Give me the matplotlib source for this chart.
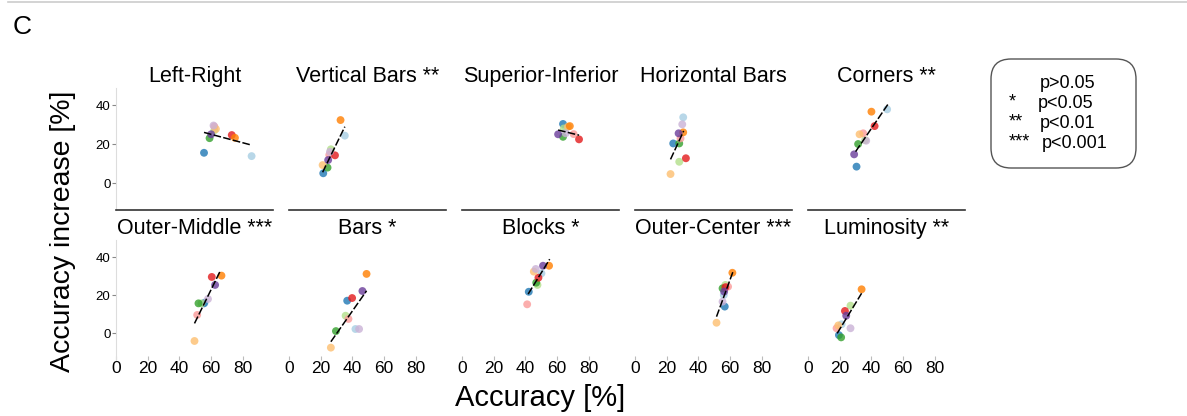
import matplotlib.pyplot as plt
from matplotlib.patches import FancyBboxPatch

plt.rcParams['font.family'] = ['Liberation Sans', 'DejaVu Sans']

# colour order (ColorBrewer Paired): one colour per subject
subject_colors = ['#a6cee3', '#1f78b4', '#b2df8a', '#33a02c', '#fb9a99',
                  '#e31a1c', '#fdbf6f', '#ff7f00', '#cab2d6', '#6a3d9a']

titles = ['Left-Right', 'Vertical Bars **', 'Superior-Inferior', 'Horizontal Bars', 'Corners **',
          'Outer-Middle ***', 'Bars *', 'Blocks *', 'Outer-Center ***', 'Luminosity **']

# accuracy [%] per subject, in colour order
acc = [
    [85.5, 55.5, 62.0, 59.0, 62.0, 73.0, 63.0, 75.0, 61.5, 60.0],
    [35.2, 21.6, 26.4, 24.3, 25.4, 29.0, 21.2, 32.5, 25.8, 24.7],
    [65.5, 63.7, 64.2, 63.7, 70.4, 73.8, 66.8, 68.0, 65.4, 60.6],
    [30.4, 24.1, 27.9, 27.9, 28.7, 32.1, 22.4, 30.4, 29.8, 27.5],
    [49.9, 30.6, 36.0, 31.6, 34.8, 42.0, 32.5, 40.0, 36.7, 29.1],
    [56.0, 55.5, 53.9, 52.0, 51.2, 60.4, 49.5, 66.5, 58.0, 62.5],
    [41.9, 36.7, 35.7, 29.6, 37.5, 39.8, 26.4, 48.9, 44.2, 46.3],
    [50.1, 42.1, 47.6, 46.8, 41.1, 48.2, 45.3, 54.9, 46.5, 51.1],
    [56.0, 56.6, 57.0, 55.2, 58.7, 57.0, 51.4, 61.4, 55.2, 56.2],
    [21.2, 19.5, 26.8, 20.9, 18.0, 23.3, 19.1, 33.8, 26.8, 24.1],
]

# accuracy increase [%] per subject, in colour order
inc = [
    [13.8, 15.5, 27.0, 23.0, 29.0, 24.6, 27.7, 23.2, 29.5, 25.0],
    [24.3, 5.0, 17.3, 7.9, 14.4, 14.2, 9.2, 32.3, 16.0, 11.8],
    [28.5, 30.3, 28.0, 23.7, 25.1, 22.4, 28.9, 29.2, 25.5, 25.0],
    [33.7, 20.3, 10.9, 20.3, 22.9, 12.7, 4.6, 26.0, 30.1, 25.5],
    [37.8, 8.4, 22.0, 20.0, 25.5, 29.2, 25.0, 36.6, 21.7, 14.7],
    [16.1, 15.6, 15.6, 15.6, 9.5, 29.5, -4.2, 30.2, 17.9, 25.3],
    [2.1, 17.0, 9.1, 1.0, 7.4, 18.4, -7.7, 31.1, 2.1, 22.1],
    [31.4, 21.7, 25.3, 26.5, 15.1, 29.1, 32.3, 35.4, 33.7, 35.4],
    [20.0, 13.9, 25.3, 23.5, 24.4, 24.1, 5.4, 31.7, 16.5, 21.8],
    [4.6, -1.1, 14.4, -2.3, 2.5, 11.6, 4.0, 23.0, 2.5, 9.1],
]

# regression fits: slope, intercept, x range
fit_slope = [-0.217, 1.67, -0.20, 1.76, 1.19, 1.70, 1.19, 1.35, 2.28, 1.37]
fit_icpt = [38.0, -29.9, 39.3, -27.3, -19.6, -79.1, -36.0, -35.8, -108.6, -25.4]
fit_x0 = [55.5, 21.2, 60.6, 22.4, 30.0, 49.5, 26.4, 41.7, 51.4, 18.4]
fit_x1 = [85.5, 35.2, 73.8, 30.7, 50.3, 66.0, 48.9, 55.3, 61.8, 33.8]

xticks = [0, 20, 40, 60, 80]
yticks = [0, 20, 40]

key_stars = ['', '*', '**', '***']
key_text = ['p>0.05', 'p<0.05', 'p<0.01', 'p<0.001']

W, H = 1187, 416
fig = plt.figure(figsize=(W / 100, H / 100), dpi=100)

# overlay in pixel units for the decorations
over = fig.add_axes([0, 0, 1, 1], zorder=-1)
over.set_xlim(0, W)
over.set_ylim(H, 0)
over.axis('off')

col_left = [116 + 173 * i for i in range(5)]
row_box = [(87.5, 210.3), (239.9, 359.6)]  # top/bottom pixel of each row

for k in range(10):
    r, c = divmod(k, 5)
    top, bot = row_box[r]
    ax = fig.add_axes([col_left[c] / W, 1 - bot / H, 157 / W, (bot - top) / H])
    ax.patch.set_alpha(0)
    ax.set_xlim(0, 99)
    ax.set_ylim(-14, 49)
    ax.scatter(acc[k], inc[k], c=subject_colors, s=32, alpha=0.8, linewidths=0, zorder=3)
    xs = [fit_x0[k], fit_x1[k]]
    ys = [fit_slope[k] * x + fit_icpt[k] for x in xs]
    ax.plot(xs, ys, color='black', lw=1.1, dashes=(5, 1.5), zorder=4)
    ax.set_title(titles[k], fontsize=15.5, pad=4)

    for s in ['top', 'right']:
        ax.spines[s].set_visible(False)
    if c == 0:
        ax.spines['left'].set_color('#dddddd')
        ax.set_yticks(yticks)
        ax.tick_params(axis='y', labelsize=9.5, length=3, color='#888888', pad=1)
    else:
        ax.spines['left'].set_visible(False)
        ax.set_yticks([])
    if r == 0:
        ax.spines['bottom'].set_color('#333333')
        ax.spines['bottom'].set_linewidth(1.2)
        ax.set_xticks([])
    else:
        ax.spines['bottom'].set_visible(False)
        ax.set_xticks(xticks)
        ax.tick_params(axis='x', labelsize=12.5, length=3, color='#bbbbbb', pad=1,
                       direction='in')

fig.text(63 / W, 1 - 231 / H, 'Accuracy increase [%]', rotation=90,
         fontsize=20.5, ha='center', va='center')
fig.text(540 / W, 1 - 398 / H, 'Accuracy [%]', fontsize=21, ha='center', va='center')
fig.text(13 / W, 1 - 27 / H, 'C', fontsize=19, ha='left', va='center')

# faint line along the top of the figure
over.plot([8, W], [1.5, 1.5], color='#cccccc', lw=1.2)

# significance key
box = FancyBboxPatch((991, 59), 145, 109, boxstyle='round,pad=0,rounding_size=20',
                     facecolor='white', edgecolor='#555555', lw=1.0)
over.add_patch(box)
key_x = [1040, 1038, 1040, 1042]
for i in range(4):
    y = 84 + 20 * i
    over.text(1009, y - 2, key_stars[i], fontsize=13, ha='left', va='center')
    over.text(key_x[i], y, key_text[i], fontsize=13, ha='left', va='center')

fig.savefig('out.png', dpi=100)
